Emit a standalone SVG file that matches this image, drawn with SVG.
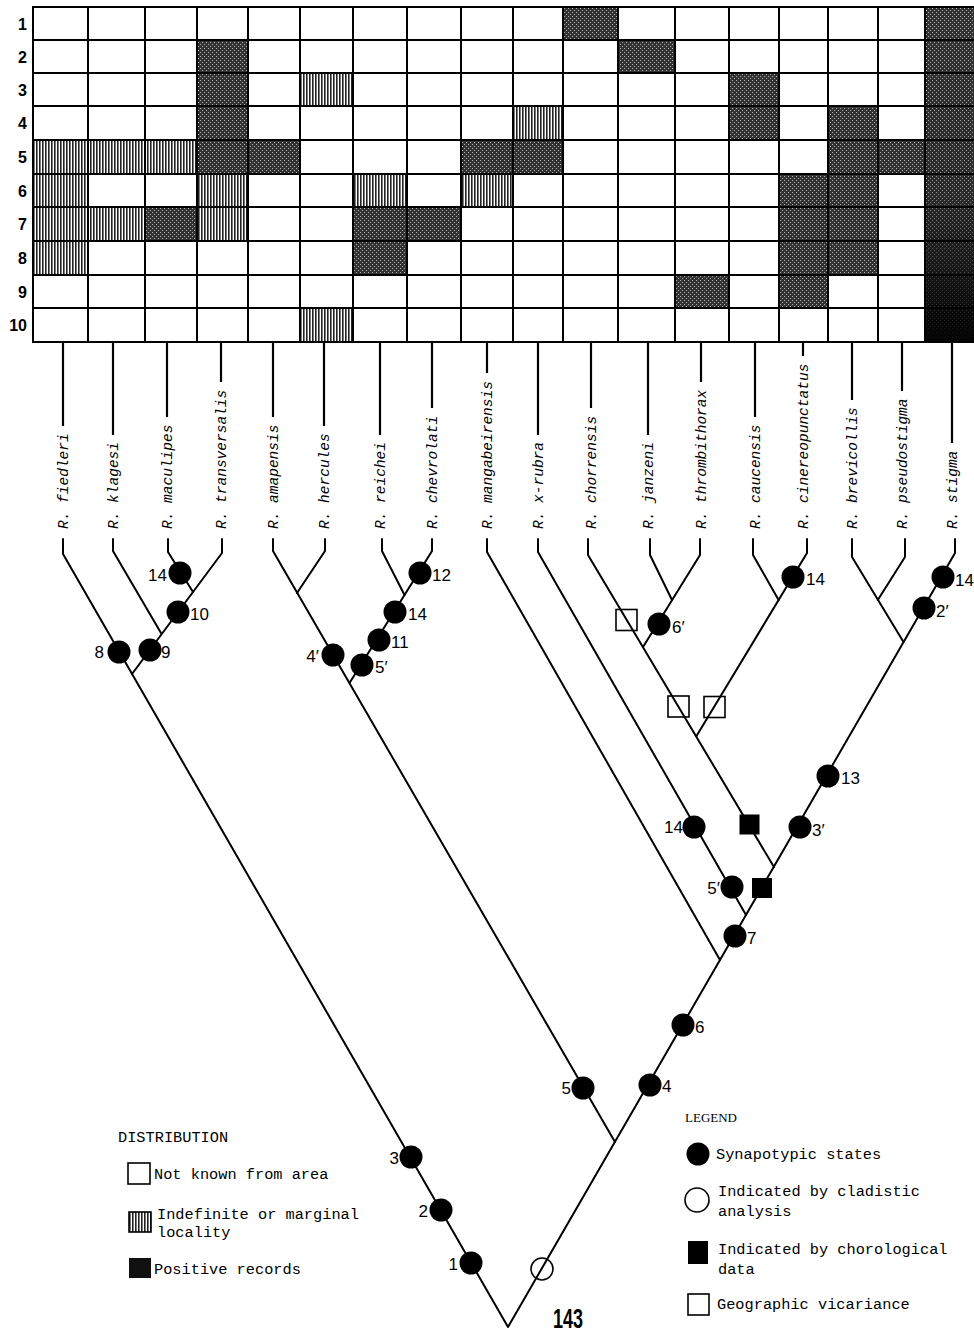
<svg xmlns="http://www.w3.org/2000/svg" width="974" height="1334" viewBox="0 0 974 1334">
<style>
.gl{stroke:#000;stroke-width:2;fill:none}
.br{stroke:#000;stroke-width:2;fill:none;stroke-linejoin:round;stroke-linecap:round}
.sl{stroke:#000;stroke-width:2.2}
.sp{font-family:"Liberation Mono","DejaVu Sans Mono",monospace;font-style:italic;font-size:14.5px;fill:#000}
.rn{font-family:"Liberation Sans",Arial,sans-serif;font-weight:bold;font-size:16px;fill:#000;text-anchor:end}
.nl{font-family:"Liberation Sans",Arial,sans-serif;font-size:17px;fill:#000}
.e{text-anchor:end}
.dot{fill:#000}
.oc{fill:#fff;stroke:#000;stroke-width:1.6}
.osq{fill:none;stroke:#000;stroke-width:1.6}
.fsq{fill:#000}
.lg{font-family:"Liberation Mono","DejaVu Sans Mono",monospace;font-size:15.3px;fill:#000}
.lh{font-family:"Liberation Serif","Times New Roman",serif;font-size:13px;fill:#000}
.dk{fill:url(#stip)}
.ht{fill:url(#hatch)}
</style>
<defs>
<pattern id="stip" width="4" height="4" patternUnits="userSpaceOnUse">
<rect width="4" height="4" fill="#333"/>
<rect x="0" y="0" width="1" height="1" fill="#b0b0b0"/>
<rect x="2" y="2" width="1" height="1" fill="#b0b0b0"/>
</pattern>
<pattern id="hatch" width="3" height="10" patternUnits="userSpaceOnUse">
<rect width="3" height="10" fill="#fff"/>
<rect width="1.6" height="10" fill="#222"/>
</pattern>
<linearGradient id="stigdark" x1="0" y1="0" x2="0" y2="1">
<stop offset="0" stop-color="#000" stop-opacity="0"/>
<stop offset="0.55" stop-color="#000" stop-opacity="0.15"/>
<stop offset="1" stop-color="#000" stop-opacity="0.95"/>
</linearGradient>
</defs>
<rect width="974" height="1334" fill="#fff"/>

<g id="grid">
<g id="cells">
<rect class="dk" x="197" y="40" width="51" height="134"/>
<rect class="dk" x="248" y="140" width="52" height="34"/>
<rect class="dk" x="145" y="207" width="52" height="34"/>
<rect class="dk" x="563" y="7" width="55" height="33"/>
<rect class="dk" x="618" y="40" width="57" height="33"/>
<rect class="dk" x="461" y="140" width="102" height="34"/>
<rect class="dk" x="353" y="207" width="108" height="34"/>
<rect class="dk" x="353" y="241" width="54" height="34"/>
<rect class="dk" x="729" y="73" width="50" height="67"/>
<rect class="dk" x="828" y="106" width="50" height="169"/>
<rect class="dk" x="878" y="140" width="47" height="34"/>
<rect class="dk" x="779" y="174" width="49" height="134"/>
<rect class="dk" x="675" y="275" width="54" height="33"/>
<rect class="dk" x="925" y="7" width="50" height="335"/>
<rect x="925" y="7" width="50" height="335" fill="url(#stigdark)"/>
<rect class="ht" x="300" y="73" width="53" height="33"/>
<rect class="ht" x="300" y="308" width="53" height="34"/>
<rect class="ht" x="33" y="140" width="164" height="34"/>
<rect class="ht" x="33" y="174" width="55" height="101"/>
<rect class="ht" x="197" y="174" width="51" height="67"/>
<rect class="ht" x="88" y="207" width="57" height="34"/>
<rect class="ht" x="513" y="106" width="50" height="34"/>
<rect class="ht" x="353" y="174" width="54" height="33"/>
<rect class="ht" x="461" y="174" width="52" height="33"/>
</g>
<path class="gl" d="M88 7V342M145 7V342M197 7V342M248 7V342M300 7V342M353 7V342M407 7V342M461 7V342M513 7V342M563 7V342M618 7V342M675 7V342M729 7V342M779 7V342M828 7V342M878 7V342M925 7V342"/>
<path class="gl" d="M33 40H975M33 73H975M33 106H975M33 140H975M33 174H975M33 207H975M33 241H975M33 275H975M33 308H975"/>
<path class="gl" stroke-width="2.6" d="M975 7H33V342H975"/>
<g id="row-numbers">
<text class="rn" x="27" y="29.5">1</text>
<text class="rn" x="27" y="62.5">2</text>
<text class="rn" x="27" y="95.5">3</text>
<text class="rn" x="27" y="129">4</text>
<text class="rn" x="27" y="163">5</text>
<text class="rn" x="27" y="196.5">6</text>
<text class="rn" x="27" y="230">7</text>
<text class="rn" x="27" y="264">8</text>
<text class="rn" x="27" y="297.5">9</text>
<text class="rn" x="27" y="331">10</text>
</g>
</g>

<g id="species">
<g id="sp-fiedleri"><line class="sl" x1="63" y1="342" x2="63" y2="426"/><text class="sp" transform="translate(67.5 529) rotate(-90)">R. fiedleri</text></g>
<g id="sp-klagesi"><line class="sl" x1="113" y1="342" x2="113" y2="435"/><text class="sp" transform="translate(117.5 529) rotate(-90)">R. klagesi</text></g>
<g id="sp-maculipes"><line class="sl" x1="167" y1="342" x2="167" y2="417"/><text class="sp" transform="translate(171.5 529) rotate(-90)">R. maculipes</text></g>
<g id="sp-transversalis"><line class="sl" x1="221" y1="342" x2="221" y2="382"/><text class="sp" transform="translate(225.5 529) rotate(-90)">R. transversalis</text></g>
<g id="sp-amapensis"><line class="sl" x1="273" y1="342" x2="273" y2="417"/><text class="sp" transform="translate(277.5 529) rotate(-90)">R. amapensis</text></g>
<g id="sp-hercules"><line class="sl" x1="324" y1="342" x2="324" y2="426"/><text class="sp" transform="translate(328.5 529) rotate(-90)">R. hercules</text></g>
<g id="sp-reichei"><line class="sl" x1="380" y1="342" x2="380" y2="435"/><text class="sp" transform="translate(384.5 529) rotate(-90)">R. reichei</text></g>
<g id="sp-chevrolati"><line class="sl" x1="432" y1="342" x2="432" y2="408"/><text class="sp" transform="translate(436.5 529) rotate(-90)">R. chevrolati</text></g>
<g id="sp-mangabeirensis"><line class="sl" x1="487" y1="342" x2="487" y2="373"/><text class="sp" transform="translate(491.5 529) rotate(-90)">R. mangabeirensis</text></g>
<g id="sp-x-rubra"><line class="sl" x1="538" y1="342" x2="538" y2="435"/><text class="sp" transform="translate(542.5 529) rotate(-90)">R. x-rubra</text></g>
<g id="sp-chorrensis"><line class="sl" x1="591" y1="342" x2="591" y2="408"/><text class="sp" transform="translate(595.5 529) rotate(-90)">R. chorrensis</text></g>
<g id="sp-janzeni"><line class="sl" x1="648" y1="342" x2="648" y2="435"/><text class="sp" transform="translate(652.5 529) rotate(-90)">R. janzeni</text></g>
<g id="sp-thrombithorax"><line class="sl" x1="701" y1="342" x2="701" y2="382"/><text class="sp" transform="translate(705.5 529) rotate(-90)">R. thrombithorax</text></g>
<g id="sp-caucensis"><line class="sl" x1="755" y1="342" x2="755" y2="417"/><text class="sp" transform="translate(759.5 529) rotate(-90)">R. caucensis</text></g>
<g id="sp-cinereopunctatus"><line class="sl" x1="803" y1="342" x2="803" y2="356"/><text class="sp" transform="translate(807.5 529) rotate(-90)">R. cinereopunctatus</text></g>
<g id="sp-brevicollis"><line class="sl" x1="852" y1="342" x2="852" y2="400"/><text class="sp" transform="translate(856.5 529) rotate(-90)">R. brevicollis</text></g>
<g id="sp-pseudostigma"><line class="sl" x1="902" y1="342" x2="902" y2="391"/><text class="sp" transform="translate(906.5 529) rotate(-90)">R. pseudostigma</text></g>
<g id="sp-stigma"><line class="sl" x1="952" y1="342" x2="952" y2="443"/><text class="sp" transform="translate(956.5 529) rotate(-90)">R. stigma</text></g>
</g>

<g id="connectors">
<path class="br" d="M63 539V554L508 1327L955 553V539"/>
<path class="br" d="M113 539V551L161 633"/>
<path class="br" d="M168 539V552L193 592"/>
<path class="br" d="M222 539V553L132 674"/>
<path class="br" d="M273 539V551L615 1142"/>
<path class="br" d="M325 539V551L297 593"/>
<path class="br" d="M382 539V551L404.5 595"/>
<path class="br" d="M432 539V551L349.5 683"/>
<path class="br" d="M487 539V552L720 960"/>
<path class="br" d="M538 539V552L746 915"/>
<path class="br" d="M588 539V555L774 867"/>
<path class="br" d="M650 539V555L672 600"/>
<path class="br" d="M700 539V555L643 647"/>
<path class="br" d="M753 539V555L778.6 600"/>
<path class="br" d="M807 539V553L696.5 736"/>
<path class="br" d="M852 539V557L903.5 642"/>
<path class="br" d="M905 539V557L877.8 600"/>
</g>

<g id="markers">
<g id="m-14a"><circle class="dot" cx="180" cy="573" r="11.5"/><text class="nl e" x="167" y="581">14</text></g>
<g id="m-10"><circle class="dot" cx="178" cy="612" r="11.5"/><text class="nl" x="190" y="620">10</text></g>
<g id="m-9"><circle class="dot" cx="150" cy="650" r="11.5"/><text class="nl" x="161" y="658">9</text></g>
<g id="m-8"><circle class="dot" cx="119" cy="652" r="11.5"/><text class="nl e" x="104" y="658">8</text></g>
<g id="m-4p"><circle class="dot" cx="333" cy="655" r="11.5"/><text class="nl e" x="319" y="662">4′</text></g>
<g id="m-5pa"><circle class="dot" cx="362" cy="665" r="11.5"/><text class="nl" x="375" y="673">5′</text></g>
<g id="m-11"><circle class="dot" cx="379" cy="640" r="11.5"/><text class="nl" x="391" y="648">11</text></g>
<g id="m-14b"><circle class="dot" cx="395" cy="612" r="11.5"/><text class="nl" x="408" y="620">14</text></g>
<g id="m-12"><circle class="dot" cx="420" cy="573" r="11.5"/><text class="nl" x="432" y="581">12</text></g>
<g id="m-6p"><circle class="dot" cx="659" cy="624" r="11.5"/><text class="nl" x="672" y="633">6′</text></g>
<g id="m-14c"><circle class="dot" cx="793" cy="577" r="11.5"/><text class="nl" x="806" y="585">14</text></g>
<g id="m-14d"><circle class="dot" cx="943" cy="577" r="11.5"/><text class="nl" x="955" y="586">14</text></g>
<g id="m-2p"><circle class="dot" cx="924" cy="608" r="11.5"/><text class="nl" x="936" y="617">2′</text></g>
<g id="m-13"><circle class="dot" cx="828" cy="776" r="11.5"/><text class="nl" x="841" y="784">13</text></g>
<g id="m-3p"><circle class="dot" cx="800" cy="827" r="11.5"/><text class="nl" x="812" y="836">3′</text></g>
<g id="m-14e"><circle class="dot" cx="694" cy="827" r="11.5"/><text class="nl e" x="683" y="833">14</text></g>
<g id="m-5pb"><circle class="dot" cx="732" cy="887" r="11.5"/><text class="nl e" x="720" y="894">5′</text></g>
<g id="m-7"><circle class="dot" cx="735" cy="936" r="11.5"/><text class="nl" x="747" y="944">7</text></g>
<g id="m-6"><circle class="dot" cx="683" cy="1025" r="11.5"/><text class="nl" x="695" y="1033">6</text></g>
<g id="m-4"><circle class="dot" cx="650" cy="1085" r="11.5"/><text class="nl" x="662" y="1092">4</text></g>
<g id="m-5"><circle class="dot" cx="583" cy="1088" r="11.5"/><text class="nl e" x="571" y="1094">5</text></g>
<g id="m-3"><circle class="dot" cx="411" cy="1157" r="11.5"/><text class="nl e" x="399" y="1164">3</text></g>
<g id="m-2"><circle class="dot" cx="441" cy="1210" r="11.5"/><text class="nl e" x="428" y="1217">2</text></g>
<g id="m-1"><circle class="dot" cx="471" cy="1263" r="11.5"/><text class="nl e" x="458" y="1270">1</text></g>
<g id="m-open"><circle class="oc" cx="542" cy="1269" r="11" fill="none" style="fill:none"/></g>
<g id="v-sq1"><rect class="osq" x="616" y="609.5" width="21" height="21"/></g>
<g id="v-sq2"><rect class="osq" x="668" y="696" width="21" height="21"/></g>
<g id="v-sq3"><rect class="osq" x="704" y="696.5" width="21" height="21"/></g>
<g id="c-sq1"><rect class="fsq" x="739.5" y="814.5" width="20" height="20"/></g>
<g id="c-sq2"><rect class="fsq" x="752" y="878" width="20" height="20"/></g>
</g>

<g id="page-number"><text x="553" y="1328" font-family="Liberation Sans,Arial,sans-serif" font-weight="bold" font-size="28" textLength="30" lengthAdjust="spacingAndGlyphs">143</text></g>

<g id="legend-distribution">
<text class="lg" x="118" y="1142">DISTRIBUTION</text>
<rect x="128" y="1163" width="22" height="21" fill="#fff" stroke="#000" stroke-width="1.6"/>
<text class="lg" x="154" y="1179">Not known from area</text>
<rect x="129" y="1212" width="22" height="20" fill="url(#hatch)" stroke="#000" stroke-width="1.6"/>
<text class="lg" x="157" y="1219">Indefinite or marginal</text>
<text class="lg" x="157" y="1237">locality</text>
<rect x="129" y="1258" width="22" height="20" fill="#111"/>
<text class="lg" x="154" y="1274">Positive records</text>
</g>

<g id="legend-symbols">
<text class="lh" x="685" y="1122">LEGEND</text>
<circle cx="698" cy="1154" r="11.5" fill="#000"/>
<text class="lg" x="716" y="1159">Synapotypic states</text>
<circle cx="697" cy="1200" r="12" fill="none" stroke="#000" stroke-width="1.6"/>
<text class="lg" x="718" y="1196">Indicated by cladistic</text>
<text class="lg" x="718" y="1216">analysis</text>
<rect x="688" y="1241" width="20" height="23" fill="#000"/>
<text class="lg" x="718" y="1254">Indicated by chorological</text>
<text class="lg" x="718" y="1274">data</text>
<rect x="688" y="1294" width="21" height="21" fill="none" stroke="#000" stroke-width="1.6"/>
<text class="lg" x="717" y="1309">Geographic vicariance</text>
</g>
</svg>
